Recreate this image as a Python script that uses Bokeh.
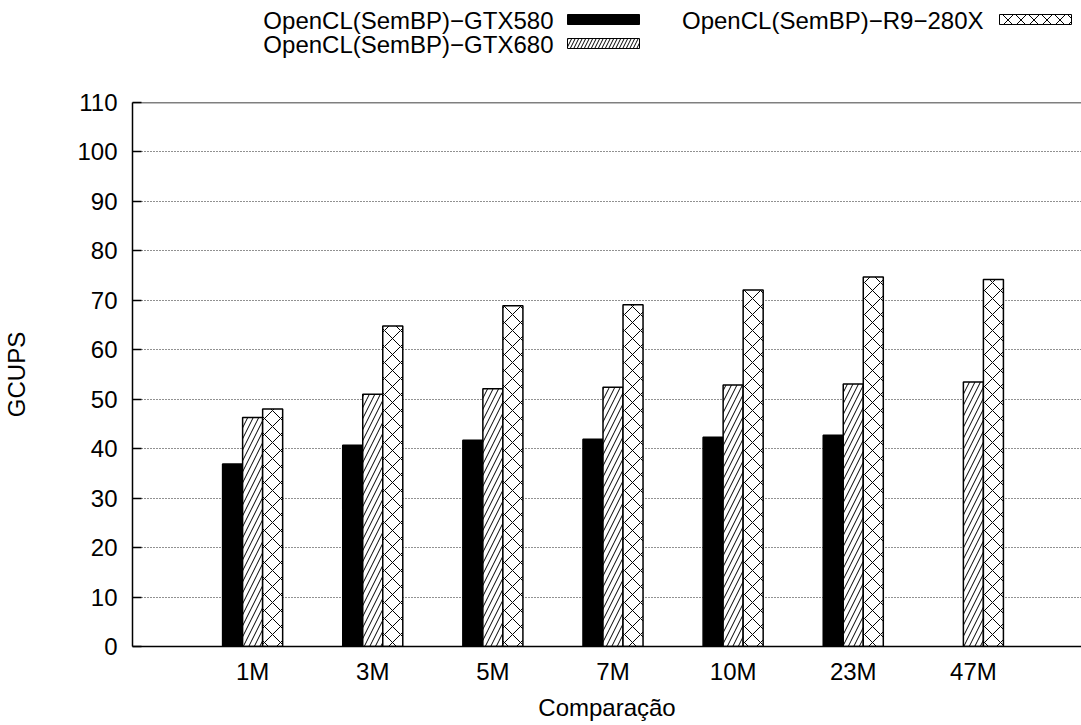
import numpy as np
from bokeh.plotting import figure
from bokeh.models import Range1d, FixedTicker, Span, ColumnDataSource
from bokeh.layouts import column
from bokeh.core.properties import value
from bokeh.embed import file_html
from bokeh.resources import INLINE

# ---- data ----
categories = ["1M", "3M", "5M", "7M", "10M", "23M", "47M"]
gtx580 = [36.9, 40.7, 41.7, 41.9, 42.3, 42.7, np.nan]
gtx680 = [46.3, 51.0, 52.1, 52.4, 52.9, 53.1, 53.5]
r9_280x = [48.0, 64.8, 68.9, 69.1, 72.1, 74.7, 74.2]
series_names = ["OpenCL(SemBP)\u2212GTX580", "OpenCL(SemBP)\u2212GTX680", "OpenCL(SemBP)\u2212R9\u2212280X"]
y_ticks = list(range(0, 111, 10))

FONT = "Liberation Sans"
FS = "24px"
W = 1081
LEFT = 132
LEG_H = 58
MAIN_H = 725 - LEG_H

styles = [
    dict(fill_color="black"),
    dict(fill_color="white", hatch_pattern="right_diagonal_line", hatch_scale=11,
         hatch_color="black", hatch_weight=1),
    dict(fill_color="white", hatch_pattern="diagonal_cross", hatch_scale=16,
         hatch_color="black", hatch_weight=1),
]
leg_styles = [
    dict(fill_color="black"),
    dict(fill_color="white", hatch_pattern="right_diagonal_line", hatch_scale=7,
         hatch_color="black", hatch_weight=1),
    dict(fill_color="white", hatch_pattern="diagonal_cross", hatch_scale=13,
         hatch_color="black", hatch_weight=1),
]

# ---- main plot ----
idx = np.arange(len(categories))
bw = 1.0 / 6.0

p = figure(width=W, height=MAIN_H, output_backend="svg", toolbar_location=None,
           x_range=Range1d(-1.0, 6.9), y_range=Range1d(0, 110),
           min_border_left=LEFT, min_border_right=0, min_border_top=44,
           min_border_bottom=79)
p.outline_line_color = None
p.background_fill_color = "white"
p.border_fill_color = "white"

p.xgrid.visible = False
p.ygrid.ticker = FixedTicker(ticks=y_ticks)
p.ygrid.grid_line_color = "#222222"
p.ygrid.grid_line_dash = "1 2"
p.ygrid.grid_line_width = 1

for k, (vals, st) in enumerate(zip([gtx580, gtx680, r9_280x], styles)):
    src = ColumnDataSource(dict(x=idx + (k - 1) * bw, top=vals))
    p.vbar(x="x", top="top", bottom=0, width=bw, source=src,
           line_color="black", line_width=1.5, **st)

p.add_layout(Span(location=110, dimension="width", line_color="black", line_width=1.5))

# axes
p.xaxis.ticker = FixedTicker(ticks=list(idx))
p.xaxis.major_label_overrides = {int(i): c for i, c in zip(idx, categories)}
p.xaxis.major_tick_in = 0
p.xaxis.major_tick_out = 0
p.xaxis.minor_tick_line_color = None
p.xaxis.major_label_standoff = 11
p.xaxis.axis_label = "Compara\u00e7\u00e3o"
p.xaxis.axis_label_standoff = 6

p.yaxis.ticker = FixedTicker(ticks=y_ticks)
p.yaxis.major_tick_in = 9
p.yaxis.major_tick_out = 0
p.yaxis.minor_tick_line_color = None
p.yaxis.major_label_standoff = 15
p.yaxis.axis_label = "GCUPS"
p.yaxis.axis_label_standoff = 44

for ax in (p.xaxis, p.yaxis):
    ax.axis_line_width = 1.5
    ax.axis_line_color = "black"
    ax.major_tick_line_color = "black"
    ax.major_tick_line_width = 1.5
    ax.major_label_text_font = FONT
    ax.major_label_text_font_size = FS
    ax.major_label_text_color = "black"
    ax.axis_label_text_font = FONT
    ax.axis_label_text_font_size = FS
    ax.axis_label_text_font_style = "normal"
    ax.axis_label_text_color = "black"

# ---- legend (label then swatch, gnuplot style) ----
# legend frame is aligned with the main frame (x from LEFT to W), so use window pixels
leg = figure(width=W, height=LEG_H, output_backend="svg", toolbar_location=None,
             x_range=Range1d(LEFT, W), y_range=Range1d(LEG_H, 0),
             x_axis_location=None, y_axis_location=None,
             min_border_left=LEFT, min_border_right=0, min_border_top=0,
             min_border_bottom=0)
leg.outline_line_color = None
leg.grid.visible = False
leg.background_fill_color = "white"
leg.border_fill_color = "white"

text_right = [553, 553, 983]
text_y = [20, 44, 20]
sw_x = [603, 603, 1035]
sw_y = [19, 43, 19]
leg.text(x=text_right, y=text_y, text=series_names, text_align="right",
         text_baseline="middle", text_font=value(FONT), text_font_size=value(FS),
         text_color="black")
for k, st in enumerate(leg_styles):
    leg.rect(x=[sw_x[k]], y=[sw_y[k]], width=72, height=10, line_color="black",
             line_width=1, **st)

layout = column(leg, p, spacing=0)
open("out.html", "w").write(file_html(layout, INLINE))
